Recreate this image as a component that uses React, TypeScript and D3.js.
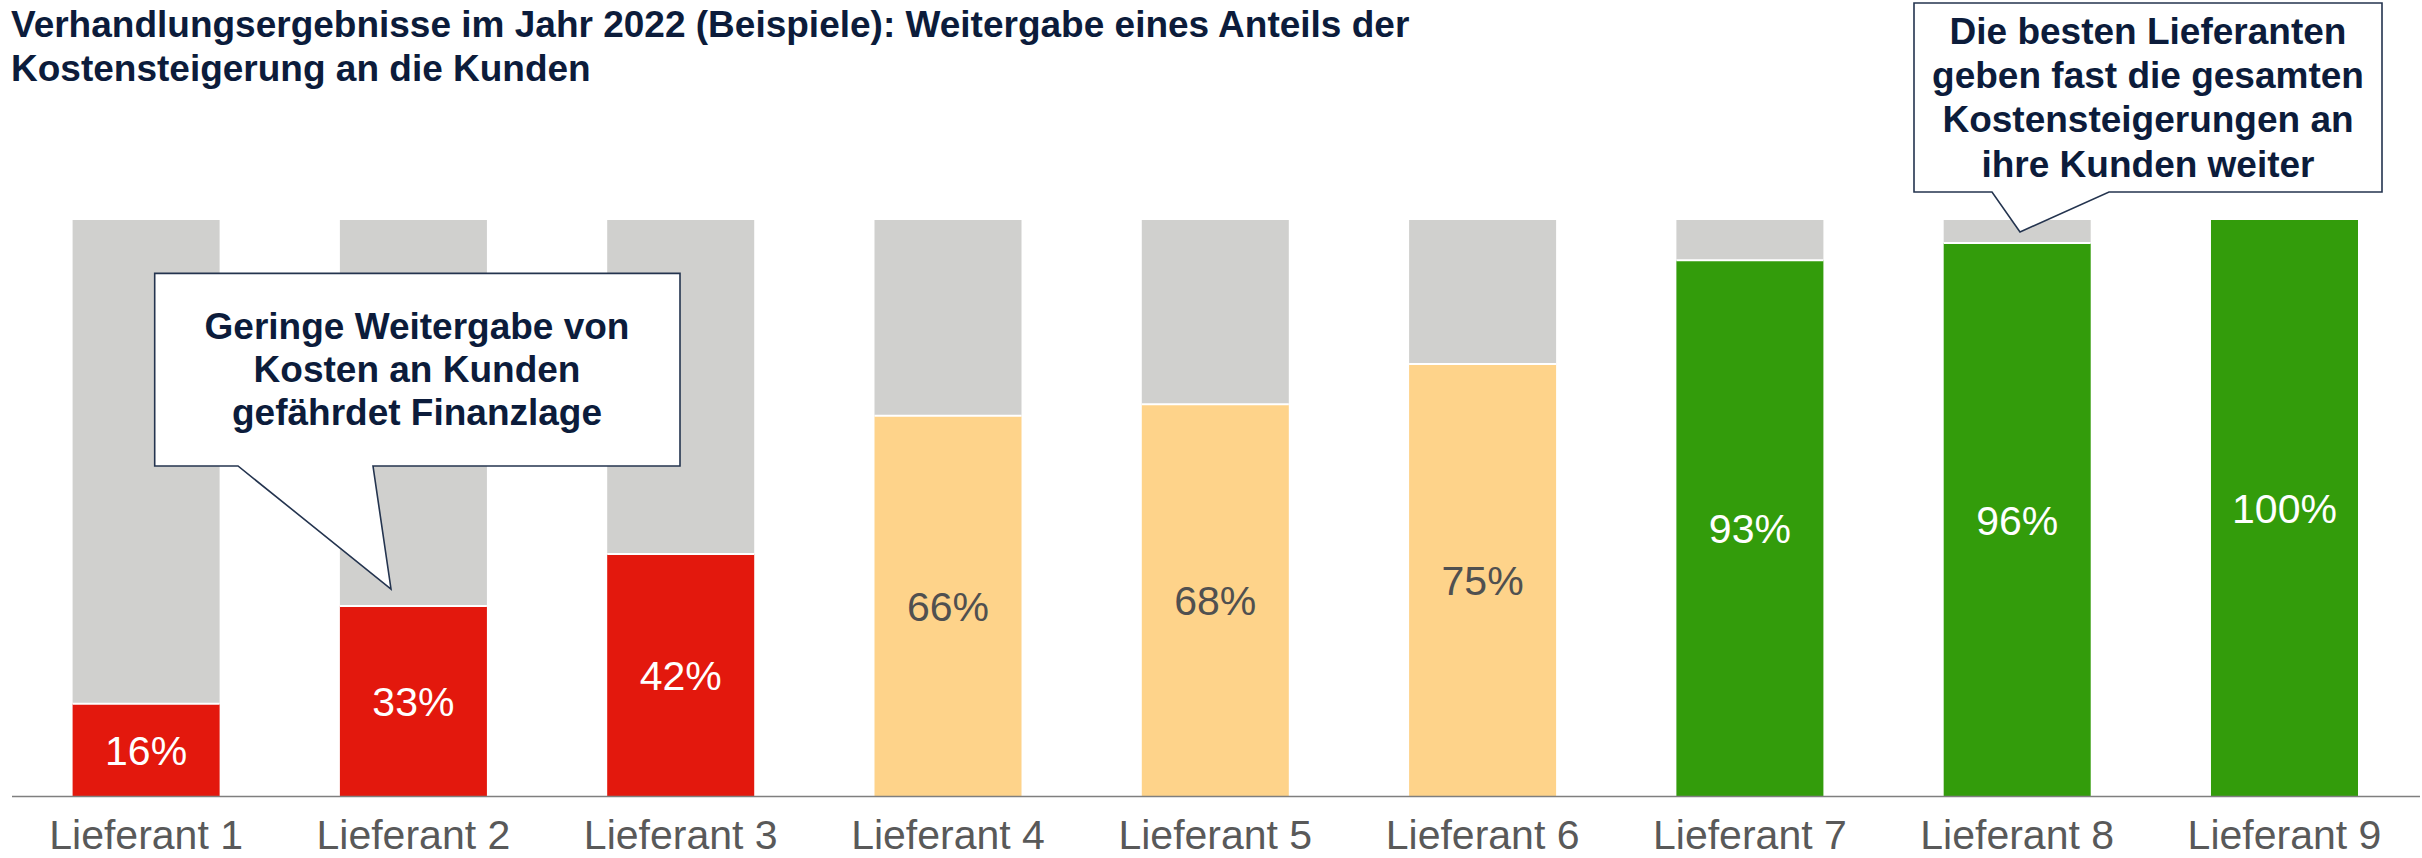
import React from "react";
import * as d3 from "d3";

const categories = [
  "Lieferant 1", "Lieferant 2", "Lieferant 3", "Lieferant 4", "Lieferant 5",
  "Lieferant 6", "Lieferant 7", "Lieferant 8", "Lieferant 9",
];
const values = [16, 33, 42, 66, 68, 75, 93, 96, 100];
const groups = ["low", "low", "low", "mid", "mid", "mid", "high", "high", "high"];
const titleLines = [
  "Verhandlungsergebnisse im Jahr 2022 (Beispiele): Weitergabe eines Anteils der",
  "Kostensteigerung an die Kunden",
];
const callout1Lines = ["Geringe Weitergabe von", "Kosten an Kunden", "gefährdet Finanzlage"];
const callout2Lines = [
  "Die besten Lieferanten",
  "geben fast die gesamten",
  "Kostensteigerungen an",
  "ihre Kunden weiter",
];

const W = 2422;
const H = 858;
const FONT = "'Liberation Sans', Arial, Helvetica, sans-serif";
const NAVY = "#0c1c3b";
const groupColor: Record<string, string> = { low: "#e3180d", mid: "#fed38a", high: "#339c0b" };
const groupText: Record<string, string> = { low: "#ffffff", mid: "#505050", high: "#ffffff" };

export default function App() {
  const x = d3.scaleBand<string>().domain(categories).range([72.6, 2358]).paddingInner(0.45).paddingOuter(0);
  const y = d3.scaleLinear().domain([0, 100]).range([796, 220]);
  const bw = x.bandwidth();

  return (
    <svg width={W} height={H} style={{ position: "absolute", left: 0, top: 0, background: "#fff" }}
      fontFamily={FONT}>
      {titleLines.map((t, i) => (
        <text key={i} x={11} y={37 + i * 44} fontSize={37} fontWeight="bold" fill={NAVY}>{t}</text>
      ))}

      {categories.map((c, i) => {
        const v = values[i];
        const x0 = x(c)!;
        return (
          <g key={c}>
            <rect x={x0} y={y(100)} width={bw} height={y(v) - y(100)} fill="#d0d0ce" />
            <rect x={x0} y={y(v)} width={bw} height={y(0) - y(v)} fill={groupColor[groups[i]]} />
            {v < 100 && <line x1={x0} x2={x0 + bw} y1={y(v)} y2={y(v)} stroke="#fff" strokeWidth={2} />}
            <text x={x0 + bw / 2} y={(y(v) + y(0)) / 2 + 15} textAnchor="middle" fontSize={41}
              fill={groupText[groups[i]]}>{v}%</text>
            <text x={x0 + bw / 2} y={849} textAnchor="middle" fontSize={41} fill="#595959">{c}</text>
          </g>
        );
      })}

      <line x1={12} x2={2420} y1={796.5} y2={796.5} stroke="#7f7f7f" strokeWidth={1.5} />

      <path d="M154.7,273.4 H680 V466 H373 L391,589 L238,466 H154.7 Z" fill="#fff" stroke="#24344f" strokeWidth={1.6} />
      {callout1Lines.map((t, i) => (
        <text key={i} x={417} y={339 + i * 43} textAnchor="middle" fontSize={37} fontWeight="bold" fill={NAVY}>{t}</text>
      ))}

      <path d="M1914,3 H2382 V192 H2109 L2020,232 L1992,192 H1914 Z" fill="#fff" stroke="#24344f" strokeWidth={1.6} />
      {callout2Lines.map((t, i) => (
        <text key={i} x={2148} y={44 + i * 44.2} textAnchor="middle" fontSize={37} fontWeight="bold" fill={NAVY}>{t}</text>
      ))}
    </svg>
  );
}
